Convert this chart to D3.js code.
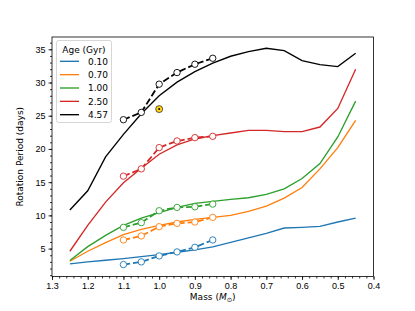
<!DOCTYPE html>
<html>
<head>
<meta charset="utf-8">
<script src="https://cdn.jsdelivr.net/npm/d3@7"></script>
<style>
  body { margin: 0; background: #fff; }
  svg { font-family: 'DejaVu Sans', sans-serif; }
  .axis text { font-size: 9px; fill: #000; }
  .axis path, .axis line { stroke: #000; stroke-width: 0.8; }
</style>
</head>
<body>
<div id="chart"></div>
<script>
// SVG dimensions
var w = 415;
var h = 311;
var margin = { left: 52, right: 41.5, top: 37, bottom: 34.5 };

// Model grid masses
var modelMass = [1.25, 1.2, 1.15, 1.1, 1.05, 1.0, 0.95, 0.9, 0.85, 0.8, 0.75, 0.7, 0.65, 0.6, 0.55, 0.5, 0.45];

// Model rotation periods for each age
var period010 = [2.7, 3.0, 3.25, 3.5, 3.8, 4.1, 4.45, 4.8, 5.25, 5.95, 6.6, 7.3, 8.1, 8.2, 8.35, 9.0, 9.6];
var period070 = [3.1, 4.6, 5.9, 7.1, 7.9, 8.5, 9.0, 9.4, 9.7, 10.0, 10.6, 11.4, 12.6, 14.2, 17.0, 20.2, 24.3];
var period100 = [3.2, 5.3, 7.0, 8.5, 9.6, 10.4, 11.2, 11.8, 12.1, 12.4, 12.65, 13.15, 14.0, 15.55, 17.8, 21.8, 27.2];
var period250 = [4.6, 8.5, 12.0, 14.9, 17.1, 19.2, 20.6, 21.5, 22.0, 22.4, 22.8, 22.8, 22.6, 22.6, 23.3, 26.1, 32.0];
var period457 = [10.8, 13.7, 18.8, 22.2, 25.3, 28.0, 30.05, 31.65, 32.9, 33.95, 34.65, 35.15, 34.8, 33.3, 32.7, 32.4, 34.4];

// Observed cluster medians
var obsMass = [1.1, 1.05, 1.0, 0.95, 0.9, 0.85];
var obs010 = [2.6, 3.0, 3.9, 4.5, 5.2, 6.3];
var obs070 = [6.3, 6.9, 8.3, 8.8, 9.0, 9.7];
var obs100 = [8.2, 8.9, 10.7, 11.2, 11.3, 11.7];
var obs250 = [15.9, 17.0, 20.2, 21.2, 21.7, 21.9];
var obs457 = [24.4, 25.5, 29.75, 31.5, 32.75, 33.65];

// Sun
var sun = { mass: 1.0, period: 26.0 };

var ageLabels = ['0.10', '0.70', '1.00', '2.50', '4.57'];
var colors = ['#1f77b4', '#ff7f0e', '#2ca02c', '#d62728', '#000000'];

var models = [period010, period070, period100, period250, period457];
var observed = [obs010, obs070, obs100, obs250, obs457];

var xTicks = [1.3, 1.2, 1.1, 1.0, 0.9, 0.8, 0.7, 0.6, 0.5, 0.4];
var yTicks = [5, 10, 15, 20, 25, 30, 35];

var svg = d3.select('#chart')
  .append('svg')
  .attr('width', w)
  .attr('height', h);

// Scales
var xScale = d3.scaleLinear()
  .domain([1.3, 0.4])
  .range([margin.left, w - margin.right]);

var yScale = d3.scaleLinear()
  .domain([0.8, 36.85])
  .range([h - margin.bottom, margin.top]);

// Minor ticks
var xMinor = d3.range(1.3, 0.399, -0.02);
var yMinor = d3.range(1, 36.5, 1);

svg.append('g')
  .attr('class', 'axis')
  .attr('transform', `translate(0, ${h - margin.bottom})`)
  .call(d3.axisBottom(xScale).tickValues(xMinor).tickSize(2).tickFormat(''))
  .call(g => g.select('.domain').remove());

svg.append('g')
  .attr('class', 'axis')
  .attr('transform', `translate(${margin.left}, 0)`)
  .call(d3.axisLeft(yScale).tickValues(yMinor).tickSize(2).tickFormat(''))
  .call(g => g.select('.domain').remove());

// Major axes
svg.append('g')
  .attr('class', 'axis')
  .attr('transform', `translate(0, ${h - margin.bottom})`)
  .call(d3.axisBottom(xScale).tickValues(xTicks).tickSize(3.5).tickPadding(3).tickFormat(d3.format('.1f')))
  .call(g => g.select('.domain').remove());

svg.append('g')
  .attr('class', 'axis')
  .attr('transform', `translate(${margin.left}, 0)`)
  .call(d3.axisLeft(yScale).tickValues(yTicks).tickSize(3.5).tickPadding(3))
  .call(g => g.select('.domain').remove());

var plot = svg.append('g');

var line = d3.line()
  .x(d => xScale(d[0]))
  .y(d => yScale(d[1]));

// Model curves
models.forEach((vals, i) => {
  plot.append('path')
    .datum(modelMass.map((m, j) => [m, vals[j]]))
    .attr('d', line)
    .attr('fill', 'none')
    .attr('stroke', colors[i])
    .attr('stroke-width', 1.35);
});

// Observed: dashed lines with open circles
observed.forEach((vals, i) => {
  var pts = obsMass.map((m, j) => [m, vals[j]]);
  plot.append('path')
    .datum(pts)
    .attr('d', line)
    .attr('fill', 'none')
    .attr('stroke', colors[i])
    .attr('stroke-width', 1.8)
    .attr('stroke-dasharray', '6.7,2.9');
  plot.selectAll(null)
    .data(pts)
    .enter()
    .append('circle')
    .attr('cx', d => xScale(d[0]))
    .attr('cy', d => yScale(d[1]))
    .attr('r', 3.2)
    .attr('fill', '#fff')
    .attr('stroke', colors[i])
    .attr('stroke-width', 0.9);
});

// Sun symbol
plot.append('circle')
  .attr('cx', xScale(sun.mass))
  .attr('cy', yScale(sun.period))
  .attr('r', 3.5)
  .attr('fill', '#ffd21f')
  .attr('stroke', '#000')
  .attr('stroke-width', 0.6);
plot.append('circle')
  .attr('cx', xScale(sun.mass))
  .attr('cy', yScale(sun.period))
  .attr('r', 1)
  .attr('fill', '#000');

// Frame
svg.append('rect')
  .attr('x', margin.left)
  .attr('y', margin.top)
  .attr('width', w - margin.left - margin.right)
  .attr('height', h - margin.top - margin.bottom)
  .attr('fill', 'none')
  .attr('stroke', '#000')
  .attr('stroke-width', 0.8);

// Axis labels
svg.append('text')
  .attr('x', (margin.left + w - margin.right) / 2)
  .attr('y', 300)
  .attr('text-anchor', 'middle')
  .attr('font-size', 9)
  .html('Mass (<tspan font-style="italic">M</tspan><tspan font-size="6.5" dy="2">⊙</tspan><tspan dy="-2">)</tspan>');

svg.append('text')
  .attr('transform', `translate(23, ${(margin.top + h - margin.bottom) / 2}) rotate(-90)`)
  .attr('text-anchor', 'middle')
  .attr('font-size', 9)
  .text('Rotation Period (days)');

// Legend
var legend = svg.append('g');
legend.append('rect')
  .attr('x', 56.5)
  .attr('y', 40.5)
  .attr('width', 55)
  .attr('height', 82)
  .attr('rx', 2)
  .attr('fill', '#fff')
  .attr('fill-opacity', 0.8)
  .attr('stroke', '#cccccc')
  .attr('stroke-width', 0.8);

legend.append('text')
  .attr('x', 84)
  .attr('y', 52.5)
  .attr('text-anchor', 'middle')
  .attr('font-size', 9)
  .text('Age (Gyr)');

ageLabels.forEach((lab, i) => {
  var yy = 61.3 + i * 13.35;
  legend.append('line')
    .attr('x1', 60)
    .attr('x2', 79)
    .attr('y1', yy)
    .attr('y2', yy)
    .attr('stroke', colors[i])
    .attr('stroke-width', 1.35);
  legend.append('text')
    .attr('x', 108)
    .attr('y', yy + 3.3)
    .attr('text-anchor', 'end')
    .attr('font-size', 9)
    .text(lab);
});
</script>
</body>
</html>
